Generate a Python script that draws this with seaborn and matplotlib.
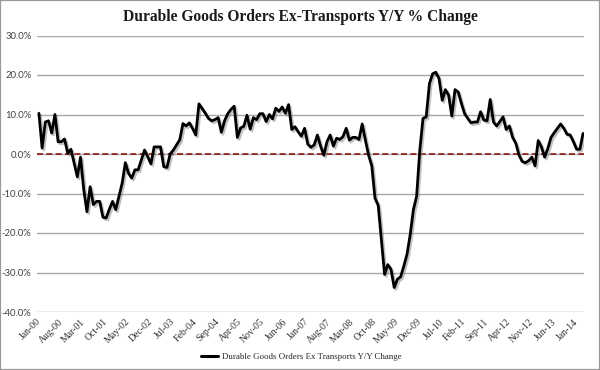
import numpy as np
import pandas as pd
import matplotlib
matplotlib.use("Agg")
import matplotlib.pyplot as plt
import matplotlib.patheffects as pe
from matplotlib.lines import Line2D
from matplotlib.patches import Rectangle
import seaborn as sns

# ---- data ----
title = "Durable Goods Orders Ex-Transports Y/Y % Change"
series_label = "Durable Goods Orders Ex Transports Y/Y Change"

months = pd.date_range("2000-01-01", "2014-03-01", freq="MS")

yoy_change = [
    10.3, 1.5, 8.1, 8.4, 5.3, 10.0, 3.1, 3.1, 3.8, 0.2,
    1.2, -2.3, -5.8, -0.8, -9.0, -14.6, -8.3, -12.8, -12.0, -12.0,
    -16.0, -16.2, -14.0, -12.0, -14.1, -10.8, -7.4, -2.2, -4.9, -6.1,
    -4.0, -4.0, -1.5, 1.0, -0.7, -2.5, 1.8, 1.8, 1.8, -3.2,
    -3.4, 0.0, 1.0, 2.3, 3.6, 7.7, 7.1, 7.9, 6.5, 4.8,
    12.7, 11.5, 10.3, 9.0, 8.4, 8.7, 9.2, 5.5, 8.4, 10.2,
    11.3, 12.1, 4.2, 6.6, 7.0, 9.8, 6.3, 9.2, 8.7, 10.2,
    10.2, 8.2, 10.0, 8.9, 11.6, 10.8, 11.9, 10.3, 12.5, 6.2,
    6.9, 5.6, 4.5, 6.5, 2.5, 1.7, 2.3, 4.8, 2.0, -0.3,
    3.1, 4.8, 2.0, 4.0, 3.7, 4.4, 6.5, 3.5, 4.2, 4.2,
    3.7, 7.6, 3.5, -0.3, -3.0, -11.2, -13.0, -21.7, -30.5, -28.0,
    -29.2, -33.8, -31.7, -31.1, -28.4, -25.4, -20.4, -14.1, -10.7, 1.0,
    9.0, 9.4, 17.8, 20.3, 20.7, 19.1, 13.6, 16.3, 14.9, 9.6,
    16.3, 15.7, 12.8, 10.2, 9.0, 7.9, 8.1, 8.1, 10.7, 8.6,
    8.4, 13.8, 8.1, 7.1, 8.2, 9.4, 6.2, 7.1, 4.2, 2.7,
    -0.3, -1.9, -2.2, -1.7, -0.8, -3.0, 3.4, 1.8, -0.8, 1.4,
    4.2, 5.4, 6.5, 7.6, 6.5, 5.0, 4.8, 3.1, 1.2, 1.2,
    5.2,
]

tick_labels = [
    "Jan-00", "Aug-00", "Mar-01", "Oct-01", "May-02", "Dec-02", "Jul-03",
    "Feb-04", "Sep-04", "Apr-05", "Nov-05", "Jun-06", "Jan-07", "Aug-07",
    "Mar-08", "Oct-08", "May-09", "Dec-09", "Jul-10", "Feb-11", "Sep-11",
    "Apr-12", "Nov-12", "Jun-13", "Jan-14",
]
y_ticks = [-40, -30, -20, -10, 0, 10, 20, 30]

# ---- figure ----
sns.set_theme(style="white")
plt.rcParams["font.family"] = ["Liberation Serif", "DejaVu Serif"]

fig = plt.figure(figsize=(6.0, 3.7), dpi=100)
fig.patch.set_facecolor("white")

ax = fig.add_axes([37 / 600, 1 - 312 / 370, 547 / 600, (312 - 35.5) / 370])

df = pd.DataFrame({"idx": np.arange(len(yoy_change)), "yoy": yoy_change})

ax.axhline(0, color="#8b1a12", lw=1.2, dashes=(3.6, 2.0), zorder=2)

sns.lineplot(
    data=df, x="idx", y="yoy", ax=ax, color="black", lw=2.0,
    zorder=3, legend=False,
    path_effects=[pe.SimpleLineShadow(offset=(1.2, -1.4), shadow_color="#777777", alpha=0.45),
                  pe.Normal()],
)

ax.set_xlim(-0.6, len(yoy_change) - 1 + 0.3)
ax.set_ylim(-40, 30)
ax.set_yticks(y_ticks)
ax.set_yticklabels([f"{v:.1f}%" for v in y_ticks], fontfamily="Lato",
                   fontsize=6.8, color="#404040")
ax.set_xticks(np.arange(0, len(tick_labels) * 7, 7))
ax.set_xticklabels(tick_labels, rotation=45, ha="right", va="center",
                   rotation_mode="anchor", fontsize=7, color="#303030")
ax.tick_params(axis="both", length=0)
ax.tick_params(axis="x", pad=6)
ax.tick_params(axis="y", pad=4)

ax.grid(False)
ax.yaxis.grid(True, color="#a8a8a8", lw=1.0, zorder=0)
for s in ax.spines.values():
    s.set_visible(False)
ax.set_xlabel("")
ax.set_ylabel("")
ax.set_facecolor("white")

fig.text(0.5, 1 - 17 / 370, title, ha="center", va="center",
         fontsize=11.2, fontweight="bold", color="#1a1a1a")

handle = Line2D([0], [0], color="black", lw=2.2)
fig.legend(handles=[handle], labels=[series_label], loc="center",
           bbox_to_anchor=(301 / 600, 1 - 357 / 370), frameon=False,
           prop={"size": 6.4}, handlelength=2.0, handletextpad=0.4,
           borderpad=0.0)

fig.add_artist(Rectangle((0, 0), 1, 1, transform=fig.transFigure, fill=False,
                         edgecolor="#9a9a9a", lw=1.6))

fig.savefig("out.png", dpi=100)
